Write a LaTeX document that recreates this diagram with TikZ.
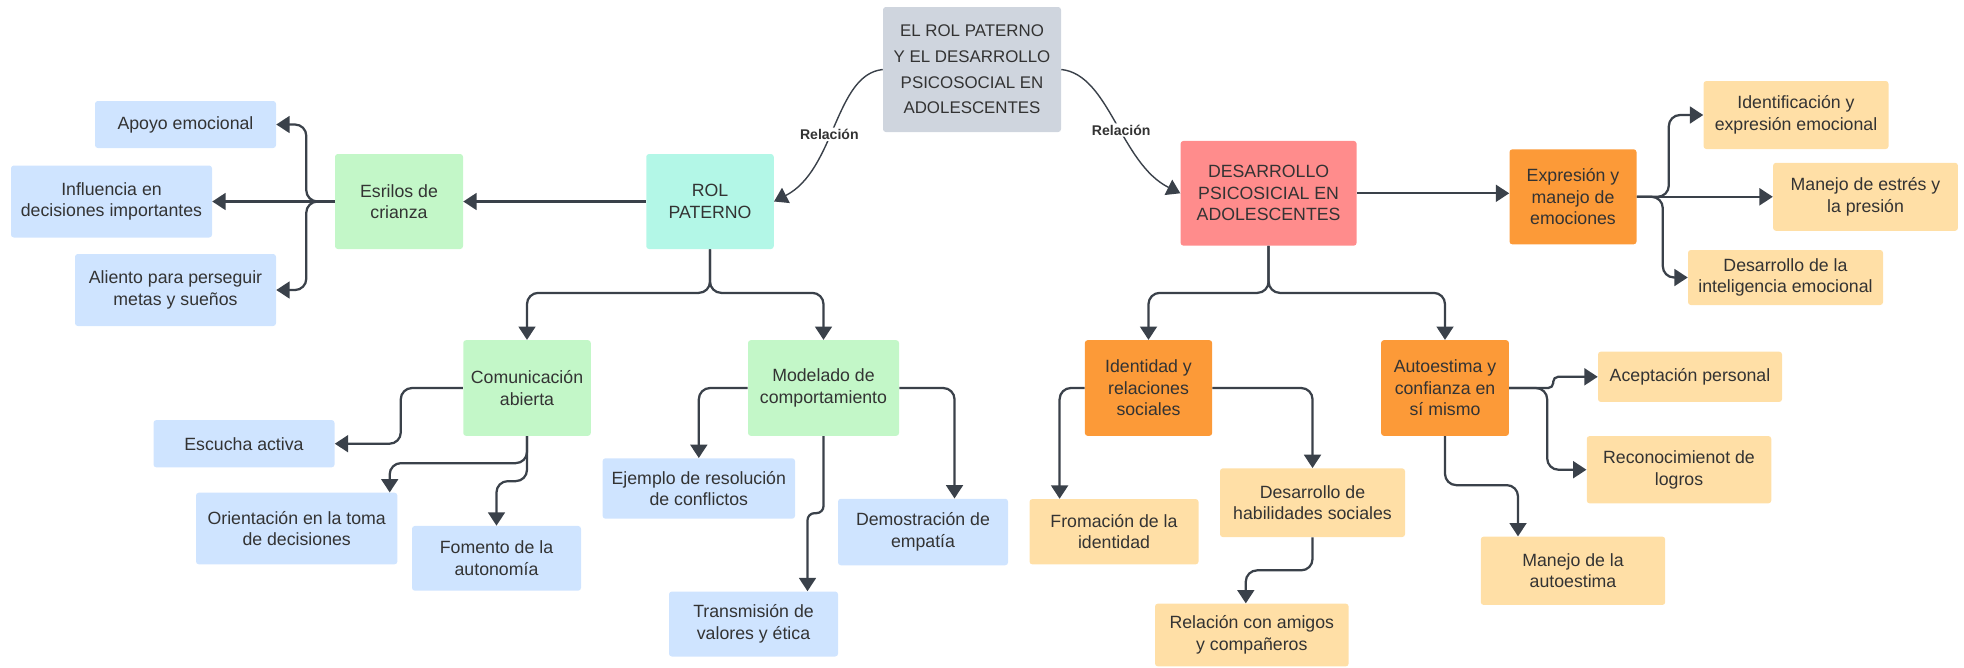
\documentclass[tikz,border=0pt]{standalone}
\usepackage{fontspec}
\setmainfont{Liberation Sans}
\usepackage{tikz}
\usetikzlibrary{arrows.meta}
\def\px{0.025cm}
\definecolor{cGray}{HTML}{CFD5DE}
\definecolor{cMint}{HTML}{B3F7E7}
\definecolor{cSalmon}{HTML}{FF8C8C}
\definecolor{cGreen}{HTML}{C3F7C8}
\definecolor{cSky}{HTML}{CFE4FF}
\definecolor{cOrange}{HTML}{FC9A38}
\definecolor{cPeach}{HTML}{FFDFA6}
\definecolor{cInk}{HTML}{333333}
\definecolor{cLine}{HTML}{3A414A}

\begin{document}
\begin{tikzpicture}
	[
	x = \px, y = \px,
	card/.style = {rounded corners = 2pt, inner sep = 0cm, align = center, text = cInk, font = \fontsize{12.6}{15.3}\selectfont},
	dim/.style 2 args = {minimum width = #1*\px, minimum height = #2*\px},
	tip/.style = {
		->,
		>={Triangle[width=12pt,length=9.5pt]},
		draw = cLine, line width = 1.6pt, rounded corners = 8pt
	},
	rel/.style = {fill = white, inner sep = 1pt, text = cInk, font = \fontsize{10}{12}\selectfont\bfseries}
	]
	
	\useasboundingbox (0,0) rectangle (1964,-667);
	
	\node[card, fill=cGray, dim={178}{125}, font=\fontsize{12}{18.3}\selectfont] (tit) at (972,-69.5) {EL ROL PATERNO\\Y EL DESARROLLO\\PSICOSOCIAL EN\\ADOLESCENTES};
	\node[card, fill=cMint, dim={127.5}{95}] (rol) at (710,-201.5) {ROL\\PATERNO};
	\node[card, fill=cSalmon, dim={176}{104.7}] (des) at (1268.6,-193.3) {DESARROLLO\\PSICOSICIAL EN\\ADOLESCENTES};
	\node[card, fill=cGreen, dim={128}{95}] (esr) at (399,-201.5) {Esrilos de\\crianza};
	\node[card, fill=cSky, dim={181}{47}] (apo) at (185.5,-124.5) {Apoyo emocional};
	\node[card, fill=cSky, dim={201}{72}] (inf) at (111.5,-201.5) {Influencia en\\decisiones importantes};
	\node[card, fill=cSky, dim={201}{72}] (ali) at (175.5,-290) {Aliento para perseguir\\metas y sueños};
	\node[card, fill=cGreen, dim={127.5}{95.7}] (com) at (527,-388) {Comunicación\\abierta};
	\node[card, fill=cGreen, dim={151}{95.7}] (mod) at (823.5,-388) {Modelado de\\comportamiento};
	\node[card, fill=cSky, dim={181}{47.3}] (esc) at (244,-443.7) {Escucha activa};
	\node[card, fill=cSky, dim={201.4}{71.6}] (ori) at (296.7,-528.5) {Orientación en la toma\\de decisiones};
	\node[card, fill=cSky, dim={169}{64.7}] (fom) at (496.5,-558.3) {Fomento de la\\autonomía};
	\node[card, fill=cSky, dim={192.4}{60.4}] (eje) at (698.8,-488.5) {Ejemplo de resolución\\de conflictos};
	\node[card, fill=cSky, dim={169}{65}] (tra) at (753.5,-624) {Transmisión de\\valores y ética};
	\node[card, fill=cSky, dim={170}{66.5}] (dem) at (923,-532) {Demostración de\\empatía};
	\node[card, fill=cOrange, dim={127.3}{95.7}] (ide) at (1148.5,-388) {Identidad y\\relaciones\\sociales};
	\node[card, fill=cOrange, dim={127.8}{95.7}] (aut) at (1445,-388) {Autoestima y\\confianza en\\sí mismo};
	\node[card, fill=cPeach, dim={169}{65.3}] (fro) at (1114,-531.7) {Fromación de la\\identidad};
	\node[card, fill=cPeach, dim={185}{68.7}] (hab) at (1312.5,-502.7) {Desarrollo de\\habilidades sociales};
	\node[card, fill=cPeach, dim={193.6}{62.7}] (amg) at (1251.8,-635) {Relación con amigos\\y compañeros};
	\node[card, fill=cPeach, dim={184}{50.3}] (ace) at (1690,-376.8) {Aceptación personal};
	\node[card, fill=cPeach, dim={184.5}{67.3}] (rec) at (1679,-469.7) {Reconocimienot de\\logros};
	\node[card, fill=cPeach, dim={184.4}{68.3}] (man) at (1573,-570.8) {Manejo de la\\autoestima};
	\node[card, fill=cOrange, dim={127}{95}] (exp) at (1573,-196.8) {Expresión y\\manejo de\\emociones};
	\node[card, fill=cPeach, dim={185}{68}] (idf) at (1796,-115) {Identificación y\\expresión emocional};
	\node[card, fill=cPeach, dim={184.8}{68}] (mes) at (1865.5,-196.8) {Manejo de estrés y\\la presión};
	\node[card, fill=cPeach, dim={195}{55}] (die) at (1785.5,-277.5) {Desarrollo de la\\inteligencia emocional};
	
	\draw[tip, line width=1pt] (tit.west) .. controls +(-48,-5) and +(61.5,31.5) .. (rol.east) node[rel, pos=.55] {Relación};
	\draw[tip, line width=1pt] (tit.east) .. controls +(48,-5) and +(-60,30) .. (des.west) node[rel, pos=.55] {Relación};
	\draw[tip] (rol.west) -- (esr.east);
	\draw[tip] (esr.west) -| ([xshift=30*\px]apo.east) -- (apo.east);
	\draw[tip] (esr.west) -- (inf.east);
	\draw[tip] (esr.west) -| ([xshift=30*\px]ali.east) -- (ali.east);
	\draw[tip] (rol.south) |- ([yshift=47*\px]com.north) -- (com.north);
	\draw[tip] (rol.south) |- ([yshift=47*\px]mod.north) -- (mod.north);
	\draw[tip] (com.west) -| ([xshift=66*\px]esc.east) -- (esc.east);
	\draw[tip] (com.south) -- ++(0,-27) -| ([xshift=93*\px]ori.north);
	\draw[tip] (com.south) -- ++(0,-45) -| (fom.north);
	\draw[tip] (mod.west) -| (eje.north);
	\draw[tip, rounded corners=5pt] (mod.south) -- ++(0,-77) -| ([xshift=54*\px]tra.north);
	\draw[tip] (mod.east) -| ([xshift=31.5*\px]dem.north);
	\draw[tip] (des.east) -- (des.east -| exp.west);
	\draw[tip] (des.south) |- ([yshift=47*\px]ide.north) -- (ide.north);
	\draw[tip] (des.south) |- ([yshift=47*\px]aut.north) -- (aut.north);
	\draw[tip] (ide.west) -| ([xshift=-54.4*\px]fro.north);
	\draw[tip] (ide.east) -| (hab.north);
	\draw[tip] (hab.south) -- ++(0,-33) -| ([xshift=-6*\px]amg.north);
	\draw[tip, rounded corners=3.5pt] (aut.east) -- ++(44,0) |- (ace.west);
	\draw[tip] (aut.east) -- ++(38,0) |- (rec.west);
	\draw[tip] (aut.south) -- ++(0,-49) -| ([xshift=-55*\px]man.north);
	\draw[tip] (exp.east) -- ++(32,0) |- (idf.west);
	\draw[tip] (exp.east) -- (mes.west);
	\draw[tip] (exp.east) -- ++(26,0) |- (die.west);
\end{tikzpicture}
\end{document}
